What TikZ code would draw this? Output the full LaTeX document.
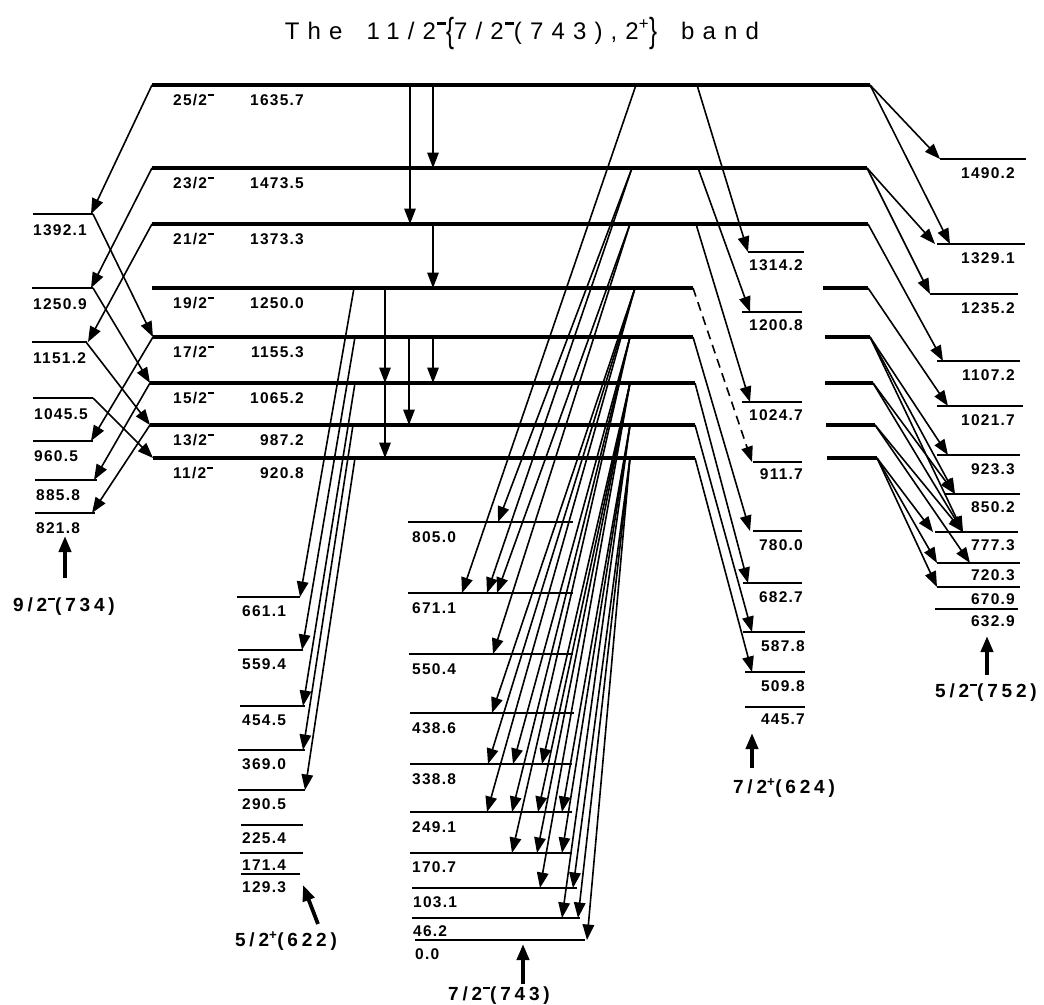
\documentclass[tikz,border=0pt]{standalone}
\usepackage{fontspec}
\usepackage{graphicx}
\setmainfont{Liberation Sans}
\newfontfamily\numfont[LetterSpace=8]{Liberation Sans}
\newfontfamily\bandfont[LetterSpace=20]{Liberation Sans}
\newfontfamily\titlefont[LetterSpace=34]{Liberation Sans}
\usetikzlibrary{arrows.meta}

% raised minus and plus for parities
\newcommand\sm{\kern0.06em\raisebox{0.6em}{\rule{0.36em}{0.1em}}}
\newcommand\spl{\textsuperscript{+}}
\newcommand\bracel{\raisebox{-0.14em}{\scalebox{1}[1.45]{\{}}}
\newcommand\bracer{\raisebox{-0.14em}{\scalebox{1}[1.45]{\}}}}

% a level: named coordinate at its height and the line itself
\newcommand\level[5][sidelvl]{%
  \coordinate (#2) at (0,#5);
  \draw[#1] (#3,0 |- #2) -- (#4,0 |- #2);}
% a gamma transition from x on one level to x on another
\newcommand\gam[5][]{\draw[gam,#1] (#2,0 |- #3) -- (#4,0 |- #5);}
% an energy label under a level
\newcommand\en[5][base west]{\node[elab,anchor=#1,yshift=-#2pt] (e#4) at (#3,0 |- #4) {#5};}

\tikzset{
  x=1pt, y=-1pt,
  mainlvl/.style={line width=3.4pt},
  sidelvl/.style={line width=2pt},
  gam/.style={line width=1.6pt, -{Triangle[length=15.5pt 0,width=11.5pt 0]}},
  feed/.style={line width=3.8pt, -{Triangle[length=16pt 0,width=12pt 0]}},
  elab/.style={font=\numfont\bfseries\fontsize{15.5pt}{15.5pt}\selectfont, inner sep=0pt},
  blab/.style={font=\bandfont\bfseries\fontsize{19pt}{19pt}\selectfont, inner sep=0pt},
}

\begin{document}
\begin{tikzpicture}
\fill[white] (0,0) rectangle (1044,1004);
\useasboundingbox (0,0) rectangle (1044,1004);

% title
\node[font=\titlefont\fontsize{24pt}{24pt}\selectfont, anchor=base, inner sep=0pt] (title) at (522,39)
  {The\hspace{24pt}11/2\sm\bracel 7/2\sm(743),2\spl\bracer\hspace{24pt}band};

% ---------------- main band 11/2-{7/2-(743),2+} ----------------
\level[mainlvl]{m25}{152}{870}{85}
\level[mainlvl]{m23}{152}{867}{168}
\level[mainlvl]{m21}{152}{868}{224}
\level[mainlvl]{m19}{152}{693}{288}
\level[mainlvl]{m17}{153}{693}{337}
\level[mainlvl]{m15}{150}{695}{383}
\level[mainlvl]{m13}{150}{695}{425}
\level[mainlvl]{m11}{153}{695}{458}
% right-hand pieces of the lower members
\draw[mainlvl] (823,0 |- m19) -- (868,0 |- m19);
\draw[mainlvl] (825,0 |- m17) -- (870,0 |- m17);
\draw[mainlvl] (825,0 |- m15) -- (873,0 |- m15);
\draw[mainlvl] (826,0 |- m13) -- (875,0 |- m13);
\draw[mainlvl] (827,0 |- m11) -- (877,0 |- m11);

\foreach \n/\s/\e in {m25/25/1635.7, m23/23/1473.5, m21/21/1373.3, m19/19/1250.0,
                      m17/17/1155.3, m15/15/1065.2, m13/13/987.2, m11/11/920.8}{
  \node[elab,anchor=base west,yshift=-20pt] (s\n) at (173,0 |- \n) {\s/2\sm};
  \node[elab,anchor=base east,yshift=-20pt] (e\n) at (304,0 |- \n) {\e};
}

% in-band transitions
\gam{410}{m25}{410}{m21}
\gam{433}{m25}{433}{m23}
\gam{433}{m21}{433}{m19}
\gam{385}{m19}{385}{m15}
\gam{385}{m15}{385}{m11}
\gam{409}{m17}{409}{m13}
\gam{433}{m17}{433}{m15}

% ---------------- 9/2-(734) band ----------------
\level{l1392}{33}{93}{214}
\level{l1250}{32}{93}{288}
\level{l1151}{32}{87}{342}
\level{l1045}{33}{93}{398}
\level{l960}{33}{93}{441}
\level{l885}{35}{97}{480}
\level{l821}{35}{95}{513}
\en{21}{33}{l1392}{1392.1}
\en{21}{33}{l1250}{1250.9}
\en{21}{33}{l1151}{1151.2}
\en{21}{34}{l1045}{1045.5}
\en{20}{34}{l960}{960.5}
\en{20}{36}{l885}{885.8}
\en{20}{36}{l821}{821.8}

\gam{152}{m25}{91}{l1392}
\gam{152}{m23}{91}{l1250}
\gam{152}{m21}{88}{l1151}
\gam{93}{l1392}{153}{m17}
\gam{93}{l1250}{150}{m15}
\gam{86}{l1151}{150}{m13}
\gam{93}{l1045}{153}{m11}
\gam{153}{m17}{91}{l960}
\gam{150}{m15}{94}{l885}
\gam{150}{m13}{92}{l821}

\node[blab,anchor=base] (b734) at (64,611) {9/2\sm(734)};
\draw[feed] (65,578) -- (65,536);

% ---------------- 5/2+(622) band ----------------
\level{p661}{237}{300}{597}
\level{p559}{238}{303}{650}
\level{p454}{240}{305}{706}
\level{p369}{238}{305}{750}
\level{p290}{238}{305}{790}
\level{p225}{241}{303}{825}
\level{p171}{240}{303}{853}
\level{p129}{241}{300}{874}
\en{19}{242}{p661}{661.1}
\en{19}{242}{p559}{559.4}
\en{19}{242}{p454}{454.5}
\en{19}{242}{p369}{369.0}
\en{19}{242}{p290}{290.5}
\en{18}{242}{p225}{225.4}
\en{17}{242}{p171}{171.4}
\en{18}{242}{p129}{129.3}

\gam{354}{m19}{300}{p661}
\gam{355}{m17}{302}{p559}
\gam{355}{m15}{303}{p454}
\gam{353}{m13}{303}{p369}
\gam{355}{m11}{305}{p290}

\node[blab,anchor=base] (b622) at (286,946) {5/2\spl(622)};
\draw[feed] (318,924) -- (303,885);

% ---------------- 7/2-(743) band ----------------
\level{g805}{408}{573}{522}
\level{g671}{408}{573}{593}
\level{g550}{409}{573}{654}
\level{g438}{410}{574}{713}
\level{g338}{410}{572}{764}
\level{g249}{410}{572}{812}
\level{g170}{410}{572}{853}
\level{g103}{412}{577}{888}
\level{g46}{412}{580}{918}
\level{g0}{415}{585}{940}
\en{20}{412}{g805}{805.0}
\en{20}{412}{g671}{671.1}
\en{20}{412}{g550}{550.4}
\en{20}{412}{g438}{438.6}
\en{20}{412}{g338}{338.8}
\en{20}{412}{g249}{249.1}
\en{19}{412}{g170}{170.7}
\en{19}{413}{g103}{103.1}
\en{18}{413}{g46}{46.2}
\en{19}{415}{g0}{0.0}

\gam{636}{m25}{462}{g671}
\gam{632}{m23}{498}{g805}
\gam{632}{m23}{487}{g671}
\gam{630}{m21}{497}{g671}
\gam{630}{m21}{493}{g550}
\gam{635}{m19}{492}{g438}
\gam{635}{m19}{488}{g338}
\gam{635}{m19}{487}{g249}
\gam{630}{m17}{513}{g338}
\gam{630}{m17}{512}{g249}
\gam{630}{m17}{512}{g170}
\gam{630}{m15}{542}{g338}
\gam{630}{m15}{538}{g249}
\gam{630}{m15}{537}{g170}
\gam{630}{m15}{540}{g103}
\gam{630}{m13}{562}{g249}
\gam{630}{m13}{562}{g170}
\gam{630}{m13}{562}{g46}
\gam{630}{m11}{573}{g103}
\gam{630}{m11}{578}{g46}
\gam{630}{m11}{587}{g0}

\node[blab,anchor=base] (b743) at (499,1000) {7/2\sm(743)};
\draw[feed] (523,984) -- (523,944);

% ---------------- 7/2+(624) band ----------------
\level{r1314}{748}{804}{252}
\level{r1200}{742}{802}{312}
\level{r1024}{742}{802}{402}
\level{r911}{753}{802}{462}
\level{r780}{753}{802}{531}
\level{r682}{743}{802}{583}
\level{r587}{743}{805}{632}
\level{r509}{745}{805}{672}
\level{r445}{745}{805}{707}
\en[base east]{18}{803}{r1314}{1314.2}
\en[base east]{18}{803}{r1200}{1200.8}
\en[base east]{18}{803}{r1024}{1024.7}
\en[base east]{17}{803}{r911}{911.7}
\en[base east]{19}{803}{r780}{780.0}
\en[base east]{19}{803}{r682}{682.7}
\en[base east]{19}{805}{r587}{587.8}
\en[base east]{19}{805}{r509}{509.8}
\en[base east]{17}{805}{r445}{445.7}

\gam{697}{m25}{748}{r1314}
\gam{698}{m23}{750}{r1200}
\gam{696}{m21}{750}{r1024}
\gam[dash pattern=on 9pt off 6pt]{693}{m19}{752}{r911}
\gam{693}{m17}{750}{r780}
\gam{695}{m15}{748}{r682}
\gam{695}{m13}{752}{r587}
\gam{695}{m11}{752}{r509}

\node[blab,anchor=base] (b624) at (784,793) {7/2\spl(624)};
\draw[feed] (752,768) -- (752,733);

% ---------------- 5/2-(752) band ----------------
\level{f1490}{940}{1026}{159}
\level{f1329}{937}{1025}{244}
\level{f1235}{930}{1018}{294}
\level{f1107}{937}{1020}{361}
\level{f1021}{937}{1023}{406}
\level{f923}{937}{1020}{455}
\level{f850}{945}{1020}{494}
\level{f777}{935}{1018}{532}
\level{f720}{937}{1020}{563}
\level{f670}{937}{1020}{587}
\level{f632}{935}{1018}{609}
\en[base east]{19}{1015}{f1490}{1490.2}
\en[base east]{19}{1015}{f1329}{1329.1}
\en[base east]{19}{1015}{f1235}{1235.2}
\en[base east]{19}{1015}{f1107}{1107.2}
\en[base east]{19}{1015}{f1021}{1021.7}
\en[base east]{19}{1015}{f923}{923.3}
\en[base east]{18}{1015}{f850}{850.2}
\en[base east]{18}{1015}{f777}{777.3}
\en[base east]{17}{1015}{f720}{720.3}
\en[base east]{17}{1015}{f670}{670.9}
\en[base east]{17}{1015}{f632}{632.9}

\gam{870}{m25}{940}{f1490}
\gam{870}{m25}{950}{f1329}
\gam{867}{m23}{935}{f1329}
\gam{867}{m23}{930}{f1235}
\gam{868}{m21}{943}{f1107}
\gam{868}{m19}{948}{f1021}
\gam{870}{m17}{948}{f923}
\gam{870}{m17}{955}{f850}
\gam{870}{m17}{963}{f777}
\gam{873}{m15}{955}{f850}
\gam{873}{m15}{963}{f777}
\gam{875}{m13}{963}{f777}
\gam{875}{m13}{970}{f720}
\gam{877}{m11}{933}{f777}
\gam{877}{m11}{937}{f720}
\gam{877}{m11}{937}{f670}

\node[blab,anchor=base] (b752) at (986,697) {5/2\sm(752)};
\draw[feed] (987,675) -- (987,636);
\end{tikzpicture}
\end{document}
